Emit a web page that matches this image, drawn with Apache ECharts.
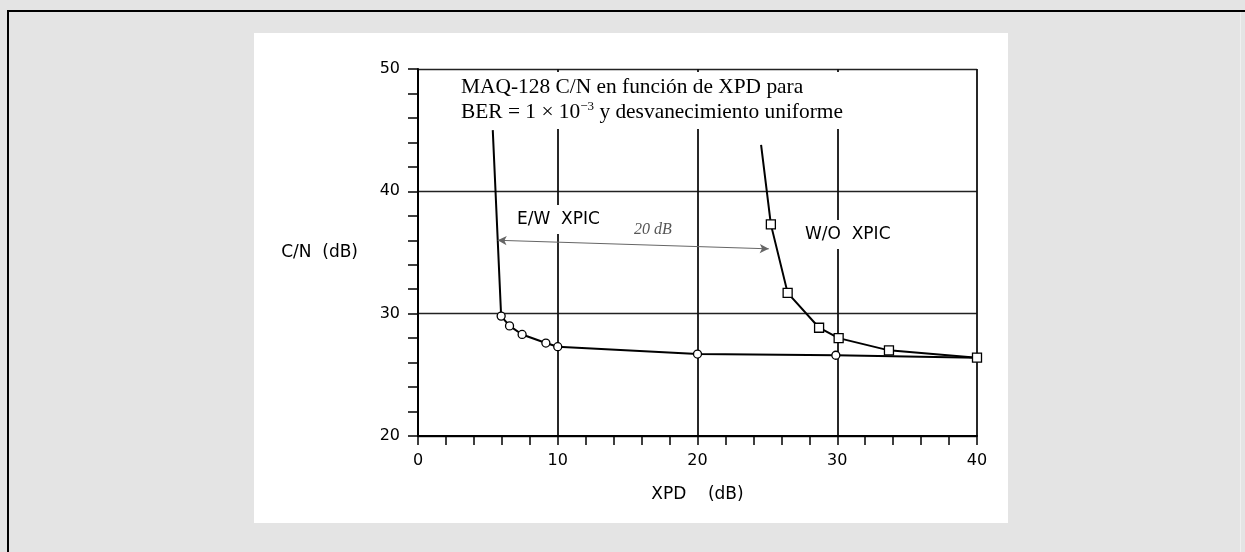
<!DOCTYPE html>
<html>
<head>
<meta charset="utf-8">
<title>MAQ-128 C/N vs XPD</title>
<script src="https://cdn.jsdelivr.net/npm/echarts@6/dist/echarts.min.js"></script>
<style>
html,body{margin:0;padding:0;background:#e4e4e4;}
#container{width:1245px;height:552px;}
</style>
</head>
<body>
<div id="container"></div>
<script>
// E/W XPIC (circulos)
var ewX=[5.35,5.95,6.55,7.45,9.15,10.0,20.0,29.9,40.0];
var ewY=[45.0,29.8,29.0,28.3,27.6,27.3,26.7,26.6,26.4];
// W/O XPIC (cuadrados)
var woX=[24.55,25.25,26.45,28.7,30.1,33.7,40.0];
var woY=[43.8,37.3,31.7,28.85,28.0,27.0,26.4];
// flecha a mano "20 dB"
var arrowX=[5.7,25.1];
var arrowY=[36.0,35.3];
var xTicks=[0,10,20,30,40];
var yTicks=[20,30,40,50];

function pts(xs,ys){
	var out=[];
	for(var i=0;i<xs.length;i++){
		var p={value:[xs[i],ys[i]]};
		if(i==0) p.symbol='none';//inicio de la curva sin marca
		out.push(p);
	}
	return out;
}

var option={
	backgroundColor:'#e4e4e4',
	animation:false,
	title:{
		text:'MAQ-128 C/N en función de XPD para\nBER = 1 × 10{sup|−3} y desvanecimiento uniforme',
		left:455,
		top:72,
		padding:[3,6,4,6],
		backgroundColor:'#fff',
		textStyle:{
			fontFamily:'Liberation Serif',
			fontSize:21.4,
			fontWeight:'normal',
			color:'#000',
			lineHeight:25,
			rich:{
				sup:{fontFamily:'Liberation Serif',fontSize:13,color:'#000',verticalAlign:'top',lineHeight:25,padding:[0,0,9,0]}
			}
		}
	},
	grid:{left:418,top:69,width:559,height:367,containLabel:false},
	xAxis:{
		type:'value',
		min:xTicks[0],
		max:xTicks[xTicks.length-1],
		interval:10,
		name:'XPD    (dB)',
		nameLocation:'middle',
		nameGap:50,
		nameTextStyle:{fontFamily:'DejaVu Sans',fontSize:17,color:'#000'},
		axisLine:{lineStyle:{color:'#000',width:2}},
		axisTick:{length:9,lineStyle:{color:'#000',width:1.5}},
		minorTick:{show:true,splitNumber:5,length:9,lineStyle:{color:'#000',width:1.5}},
		axisLabel:{margin:17,fontFamily:'DejaVu Sans',fontSize:16,color:'#000'},
		splitLine:{show:true,lineStyle:{color:'#111',width:1.8}}
	},
	yAxis:{
		type:'value',
		min:yTicks[0],
		max:yTicks[yTicks.length-1],
		interval:10,
		name:'C/N  (dB)',
		nameLocation:'middle',
		nameRotate:0,
		nameGap:60,
		nameTextStyle:{fontFamily:'DejaVu Sans',fontSize:17,color:'#000',padding:[0,0,22,0]},
		axisLine:{lineStyle:{color:'#000',width:2}},
		axisTick:{length:10,lineStyle:{color:'#000',width:1.5}},
		minorTick:{show:true,splitNumber:5,length:10,lineStyle:{color:'#000',width:1.5}},
		axisLabel:{margin:18,fontFamily:'DejaVu Sans',fontSize:16,color:'#000'},
		splitLine:{show:true,lineStyle:{color:'#222',width:1.3}}
	},
	graphic:[
		{type:'rect',z:-10,shape:{x:254,y:33,width:754,height:490},style:{fill:'#fff'}},
		{type:'line',z:100,shape:{x1:7,y1:11,x2:1245,y2:11},style:{stroke:'#000',lineWidth:2}},
		{type:'line',z:100,shape:{x1:8,y1:10,x2:8,y2:552},style:{stroke:'#000',lineWidth:2}},
		{type:'line',z:100,shape:{x1:1240.5,y1:12,x2:1240.5,y2:552},style:{stroke:'#f0f0f0',lineWidth:1}},
		{type:'text',z:50,left:511,top:205,style:{text:'E/W  XPIC',font:'17px "DejaVu Sans"',fill:'#000',backgroundColor:'#fff',padding:[6,6,6,6]}},
		{type:'text',z:50,left:799,top:220,style:{text:'W/O  XPIC',font:'17px "DejaVu Sans"',fill:'#000',backgroundColor:'#fff',padding:[6,6,6,6]}},
		{type:'text',z:50,left:634,top:222,style:{text:'20 dB',font:'italic 16px "Liberation Serif"',fill:'#555'}}
	],
	series:[
		{
			name:'E/W XPIC',
			type:'line',
			data:pts(ewX,ewY),
			symbol:'circle',
			symbolSize:8,
			showAllSymbol:true,
			lineStyle:{color:'#000',width:2},
			itemStyle:{color:'#fff',borderColor:'#000',borderWidth:1.3},
			markLine:{
				silent:true,
				symbol:['arrow','arrow'],
				symbolSize:[7,9],
				label:{show:false},
				lineStyle:{color:'#666',width:1,type:'solid'},
				data:[[{coord:[arrowX[0],arrowY[0]]},{coord:[arrowX[1],arrowY[1]]}]]
			},
			z:3
		},
		{
			name:'W/O XPIC',
			type:'line',
			data:pts(woX,woY),
			symbol:'rect',
			symbolSize:9,
			showAllSymbol:true,
			lineStyle:{color:'#000',width:2},
			itemStyle:{color:'#fff',borderColor:'#000',borderWidth:1.3},
			z:4
		}
	]
};

var mychart=echarts.init(document.getElementById("container"),null,{renderer:'canvas'});
mychart.setOption(option);
</script>
</body>
</html>
